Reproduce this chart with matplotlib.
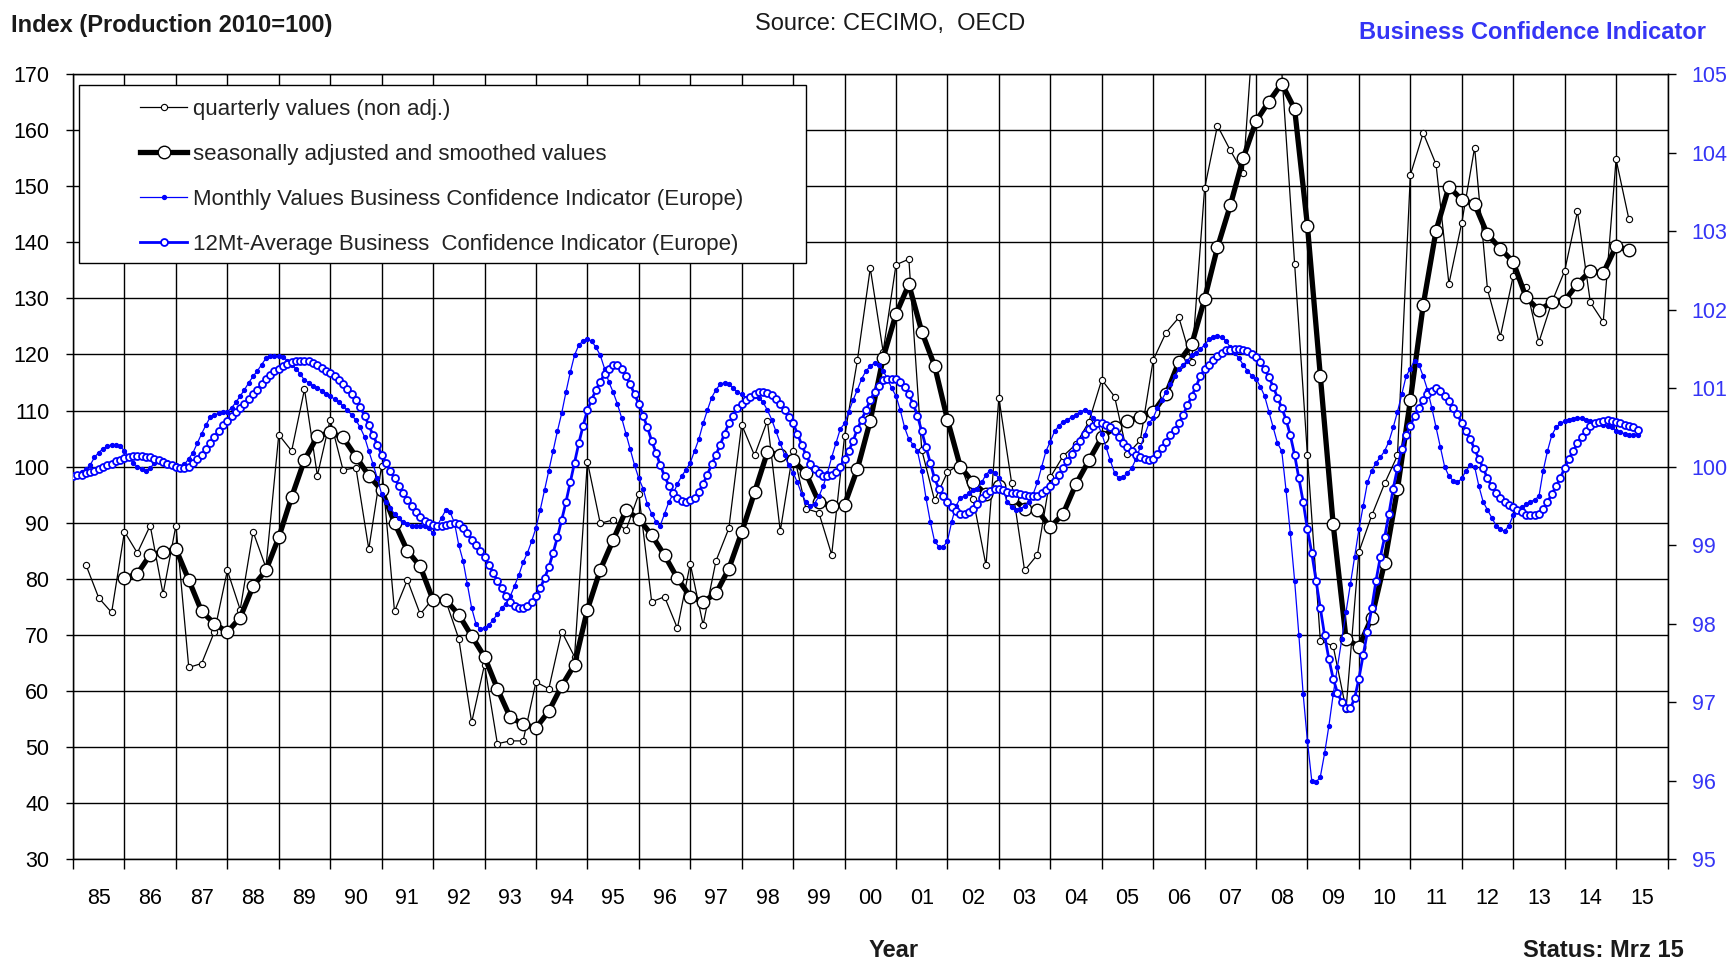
import numpy as np
import matplotlib
matplotlib.use("Agg")
import matplotlib.pyplot as plt
from matplotlib.lines import Line2D
from matplotlib.patches import Rectangle

plt.rcParams['font.family'] = ['Liberation Sans', 'DejaVu Sans']

# quarterly production index, non adjusted (Q1 1985 .. Q1 2015)
quarterly_raw = [
    82.5, 76.6, 74.0, 88.4,
    84.6, 89.5, 77.3, 89.5,
    64.2, 64.9, 70.6, 81.5,
    74.5, 88.4, 82.0, 105.7,
    102.8, 113.8, 98.4, 108.4,
    99.4, 99.8, 85.3, 100.2,
    74.2, 79.8, 73.7, 76.5,
    76.0, 69.3, 54.4, 64.7,
    50.6, 51.1, 51.1, 61.6,
    60.4, 70.6, 66.1, 100.9,
    89.9, 90.5, 88.7, 95.1,
    75.9, 76.8, 71.2, 82.7,
    71.8, 83.2, 89.0, 107.5,
    102.0, 108.2, 88.5, 102.8,
    92.5, 91.8, 84.3, 105.4,
    119.0, 135.4, 120.5, 136.0,
    137.0, 103.0, 94.0, 99.0,
    100.5, 94.2, 82.4, 112.3,
    97.0, 81.5, 84.3, 98.1,
    101.9, 104.0, 108.0, 115.5,
    112.5, 102.2, 104.7, 119.0,
    123.9, 126.6, 118.7, 149.6,
    160.8, 156.4, 152.4, 185.0,
    182.0, 170.5, 136.2, 102.0,
    69.0, 68.0, 56.7, 84.8,
    91.3, 97.0, 102.0, 152.0,
    159.5, 153.9, 132.6, 143.5,
    156.9, 131.6, 123.2, 134.0,
    132.1, 122.2, 129.3, 134.9,
    145.5, 129.3, 125.8, 154.8,
    144.1,
]

# seasonally adjusted and smoothed (Q4 1985 .. Q1 2015)
quarterly_smooth = [
    80.1,
    80.9, 84.3, 84.8, 85.3,
    79.8, 74.2, 72.0, 70.5,
    73.1, 78.7, 81.5, 87.4,
    94.6, 101.2, 105.4, 106.1,
    105.2, 101.8, 98.4, 95.8,
    90.0, 85.0, 82.2, 76.2,
    76.2, 73.6, 69.8, 66.1,
    60.4, 55.3, 54.1, 53.4,
    56.4, 60.9, 64.7, 74.5,
    81.6, 86.9, 92.2, 90.7,
    87.8, 84.2, 80.1, 76.8,
    75.9, 77.4, 81.8, 88.3,
    95.4, 102.6, 102.1, 101.2,
    98.8, 93.7, 93.0, 93.2,
    99.6, 108.2, 119.4, 127.2,
    132.5, 124.1, 118.0, 108.4,
    100.0, 97.2, 95.1, 96.5,
    94.5, 92.5, 92.2, 89.2,
    91.6, 96.9, 101.1, 105.2,
    107.0, 108.2, 108.8, 109.7,
    112.9, 118.7, 121.8, 129.9,
    139.1, 146.6, 155.0, 161.6,
    165.1, 168.3, 163.8, 142.9,
    116.2, 89.7, 69.3, 67.9,
    73.1, 82.9, 96.0, 111.8,
    128.8, 142.1, 149.9, 147.6,
    146.8, 141.4, 138.9, 136.5,
    130.2, 127.9, 129.3, 129.6,
    132.6, 134.9, 134.5, 139.3,
    138.6,
]

# business confidence indicator Europe, monthly (Jan 1985 ..)
bci_monthly = [
    99.88, 99.90, 99.93, 99.97, 100.02, 100.12, 100.18, 100.23, 100.26, 100.28, 100.28, 100.26,
    100.20, 100.12, 100.05, 100.00, 99.97, 99.95, 99.98, 100.05, 100.07, 100.08, 100.06, 100.04,
    100.02, 100.00, 100.03, 100.10, 100.18, 100.30, 100.42, 100.53, 100.63, 100.66, 100.68, 100.69,
    100.70, 100.75, 100.82, 100.90, 100.98, 101.07, 101.15, 101.22, 101.30, 101.38, 101.41, 101.41,
    101.41, 101.40, 101.35, 101.30, 101.25, 101.18, 101.10, 101.07, 101.03, 101.00, 100.97, 100.93,
    100.90, 100.86, 100.82, 100.77, 100.72, 100.66, 100.59, 100.50, 100.38, 100.20, 100.03, 99.85,
    99.65, 99.55, 99.47, 99.40, 99.35, 99.30, 99.27, 99.25, 99.25, 99.25, 99.24, 99.22,
    99.15, 99.25, 99.35, 99.45, 99.42, 99.28, 99.00, 98.80, 98.50, 98.20, 98.00, 97.93,
    97.95, 97.98, 98.05, 98.12, 98.20, 98.25, 98.35, 98.48, 98.62, 98.78, 98.90, 99.05,
    99.22, 99.45, 99.70, 99.95, 100.20, 100.45, 100.68, 100.95, 101.20, 101.42, 101.55, 101.60,
    101.62, 101.60, 101.52, 101.42, 101.25, 101.08, 100.95, 100.80, 100.62, 100.42, 100.22, 100.02,
    99.85, 99.72, 99.52, 99.40, 99.30, 99.25, 99.40, 99.55, 99.65, 99.78, 99.88, 99.96,
    100.05, 100.20, 100.35, 100.55, 100.72, 100.88, 100.98, 101.05, 101.07, 101.05, 101.00, 100.95,
    100.92, 100.88, 100.88, 100.90, 100.88, 100.82, 100.72, 100.60, 100.45, 100.30, 100.15, 100.02,
    99.92, 99.80, 99.65, 99.55, 99.50, 99.53, 99.62, 99.75, 99.92, 100.12, 100.30, 100.48,
    100.55, 100.70, 100.85, 100.98, 101.12, 101.22, 101.28, 101.32, 101.30, 101.22, 101.12, 101.00,
    100.90, 100.72, 100.50, 100.35, 100.28, 100.20, 99.95, 99.60, 99.30, 99.05, 98.98, 98.98,
    99.05, 99.30, 99.50, 99.60, 99.63, 99.66, 99.70, 99.72, 99.80, 99.90, 99.95, 99.92,
    99.85, 99.70, 99.55, 99.48, 99.45, 99.46, 99.50, 99.55, 99.65, 99.80, 100.00, 100.20,
    100.32, 100.45, 100.52, 100.57, 100.60, 100.63, 100.66, 100.70, 100.72, 100.70, 100.62, 100.55,
    100.42, 100.25, 100.08, 99.92, 99.85, 99.87, 99.92, 99.98, 100.10, 100.25, 100.40, 100.55,
    100.62, 100.75, 100.85, 100.95, 101.05, 101.15, 101.25, 101.30, 101.35, 101.42, 101.45, 101.50,
    101.55, 101.62, 101.65, 101.67, 101.65, 101.60, 101.52, 101.45, 101.38, 101.30, 101.22, 101.16,
    101.12, 101.02, 100.90, 100.70, 100.50, 100.30, 100.20, 99.70, 99.15, 98.55, 97.85, 97.10,
    96.50, 96.00, 95.98, 96.05, 96.35, 96.70, 97.10, 97.45, 97.80, 98.15, 98.50, 98.85,
    99.20, 99.50, 99.80, 99.95, 100.05, 100.12, 100.20, 100.32, 100.50, 100.70, 100.92, 101.15,
    101.25, 101.35, 101.30, 101.15, 100.98, 100.75, 100.50, 100.25, 100.00, 99.88, 99.82, 99.80,
    99.85, 99.95, 100.02, 100.00, 99.75, 99.55, 99.45, 99.35, 99.25, 99.20, 99.18, 99.25,
    99.38, 99.45, 99.48, 99.52, 99.55, 99.58, 99.62, 99.95, 100.20, 100.40, 100.50, 100.55,
    100.58, 100.60, 100.61, 100.62, 100.62, 100.60, 100.58, 100.56, 100.55, 100.53, 100.52, 100.50,
    100.46, 100.44, 100.42, 100.40, 100.40, 100.40,
]

# 12 month average of the indicator
bci_12m = [
    99.88, 99.89, 99.90, 99.92, 99.93, 99.95, 99.97, 99.99, 100.02, 100.04, 100.07, 100.09,
    100.11, 100.12, 100.13, 100.13, 100.13, 100.12, 100.12, 100.10, 100.08, 100.06, 100.04, 100.02,
    100.00, 99.98, 99.98, 100.00, 100.05, 100.10, 100.15, 100.22, 100.30, 100.38, 100.46, 100.53,
    100.58, 100.64, 100.70, 100.75, 100.80, 100.86, 100.92, 100.98, 101.05, 101.12, 101.17, 101.22,
    101.25, 101.28, 101.31, 101.33, 101.34, 101.35, 101.35, 101.34, 101.32, 101.29, 101.26, 101.22,
    101.19, 101.15, 101.11, 101.05, 100.99, 100.92, 100.85, 100.76, 100.65, 100.53, 100.40, 100.28,
    100.15, 100.05, 99.95, 99.85, 99.76, 99.67, 99.58, 99.50, 99.42, 99.36, 99.31, 99.28,
    99.26, 99.25, 99.25, 99.26, 99.27, 99.28, 99.27, 99.22, 99.15, 99.07, 99.00, 98.92,
    98.85, 98.75, 98.65, 98.55, 98.45, 98.35, 98.28, 98.22, 98.20, 98.20, 98.22, 98.27,
    98.35, 98.45, 98.58, 98.72, 98.90, 99.10, 99.32, 99.55, 99.80, 100.05, 100.30, 100.52,
    100.72, 100.85, 100.98, 101.08, 101.18, 101.25, 101.30, 101.30, 101.25, 101.15, 101.05, 100.92,
    100.80, 100.65, 100.50, 100.33, 100.18, 100.02, 99.88, 99.76, 99.66, 99.60, 99.56, 99.55,
    99.57, 99.60, 99.68, 99.78, 99.90, 100.03, 100.15, 100.28, 100.42, 100.55, 100.65, 100.75,
    100.80, 100.85, 100.89, 100.92, 100.95, 100.95, 100.94, 100.91, 100.86, 100.80, 100.72, 100.63,
    100.55, 100.42, 100.28, 100.15, 100.04, 99.97, 99.92, 99.88, 99.88, 99.90, 99.93, 100.00,
    100.10, 100.20, 100.33, 100.48, 100.60, 100.72, 100.85, 100.95, 101.03, 101.10, 101.12, 101.12,
    101.12, 101.08, 101.02, 100.92, 100.80, 100.65, 100.45, 100.25, 100.05, 99.85, 99.72, 99.62,
    99.55, 99.48, 99.43, 99.40, 99.40, 99.42, 99.46, 99.52, 99.60, 99.65, 99.69, 99.71,
    99.72, 99.70, 99.68, 99.67, 99.66, 99.65, 99.64, 99.63, 99.62, 99.63, 99.66, 99.70,
    99.75, 99.82, 99.90, 99.98, 100.07, 100.16, 100.25, 100.33, 100.41, 100.48, 100.52, 100.55,
    100.55, 100.53, 100.50, 100.45, 100.38, 100.30, 100.25, 100.20, 100.15, 100.12, 100.10, 100.08,
    100.10, 100.16, 100.24, 100.32, 100.40, 100.47, 100.55, 100.66, 100.78, 100.90, 101.02, 101.15,
    101.24, 101.30, 101.36, 101.41, 101.45, 101.48, 101.49, 101.50, 101.50, 101.49, 101.47, 101.43,
    101.40, 101.33, 101.24, 101.14, 101.02, 100.88, 100.75, 100.60, 100.40, 100.15, 99.85, 99.55,
    99.20, 98.90, 98.55, 98.20, 97.85, 97.55, 97.30, 97.12, 97.00, 96.93, 96.92, 97.05,
    97.30, 97.60, 97.90, 98.20, 98.55, 98.85, 99.10, 99.40, 99.72, 99.98, 100.22, 100.40,
    100.52, 100.65, 100.75, 100.85, 100.92, 100.97, 101.00, 100.97, 100.90, 100.83, 100.75, 100.67,
    100.55, 100.45, 100.35, 100.22, 100.10, 99.98, 99.85, 99.75, 99.67, 99.60, 99.55, 99.51,
    99.48, 99.45, 99.42, 99.39, 99.38, 99.38, 99.40, 99.46, 99.55, 99.65, 99.75, 99.86,
    99.98, 100.10, 100.20, 100.30, 100.38, 100.45, 100.52, 100.55, 100.57, 100.58, 100.59, 100.58,
    100.57, 100.55, 100.53, 100.52, 100.50, 100.47,
]

years = list(range(1985, 2016))
year_labels = [str(y)[2:] for y in years]

raw_x = 1985.25 + 0.25 * np.arange(len(quarterly_raw))
smooth_x = 1986.0 + 0.25 * np.arange(len(quarterly_smooth))
month_x = 1985.0 + np.arange(len(bci_monthly)) / 12.0
avg_x = 1985.0 + np.arange(len(bci_12m)) / 12.0

BLUE = '#0000ff'
LABEL_BLUE = '#3535f5'

fig = plt.figure(figsize=(17.35, 9.61), dpi=100)
ax = fig.add_axes([0.0421, 0.1059, 0.9190, 0.8170])
ax2 = ax.twinx()

# left axis: production index
ax.plot(raw_x, quarterly_raw, color='black', lw=0.9, marker='o', ms=4.5,
        mfc='white', mec='black', mew=0.8, zorder=3)
ax.plot(smooth_x, quarterly_smooth, color='black', lw=3.8, marker='o', ms=9,
        mfc='white', mec='black', mew=1.0, zorder=4)

ax.set_xlim(1985, 2016)
ax.set_ylim(30, 170)
ax.set_yticks(range(30, 171, 10))
ax.set_xticks(range(1985, 2017))
ax.set_xticklabels([])
ax.set_xticks([y + 0.5 for y in years], minor=True)
ax.set_xticklabels(year_labels, minor=True)
ax.grid(True, which='major', color='black', lw=1.0)
ax.tick_params(axis='x', which='major', length=7, width=1, direction='out')
ax.tick_params(axis='x', which='minor', length=0, pad=21, labelsize=15.5)
ax.tick_params(axis='y', length=5, width=1, pad=12, labelsize=15.5)
for s in ax.spines.values():
    s.set_color('black')
    s.set_linewidth(1.0)

# right axis: business confidence indicator
ax2.plot(month_x, bci_monthly, color=BLUE, lw=0.9, marker='o', ms=2.8,
         mfc=BLUE, mec=BLUE, zorder=3)
ax2.plot(avg_x, bci_12m, color=BLUE, lw=2.0, marker='o', ms=5.0,
         mfc='white', mec=BLUE, mew=1.3, zorder=4)
ax2.set_ylim(95, 105)
ax2.set_yticks(range(95, 106))
ax2.tick_params(axis='y', length=5.5, width=1, pad=12, labelsize=15.5,
                labelcolor=LABEL_BLUE, color='black')

# legend
ax2.add_patch(Rectangle((0.004, 0.76), 0.456, 0.226, transform=ax2.transAxes,
                        facecolor='white', edgecolor='black', lw=1.0, zorder=10))
handles = [
    Line2D([], [], color='black', lw=0.9, marker='o', ms=4.5, mfc='white', mec='black', mew=0.8),
    Line2D([], [], color='black', lw=3.8, marker='o', ms=9, mfc='white', mec='black'),
    Line2D([], [], color=BLUE, lw=0.9, marker='o', ms=2.8, mfc=BLUE, mec=BLUE),
    Line2D([], [], color=BLUE, lw=2.0, marker='o', ms=5.0, mfc='white', mec=BLUE, mew=1.3),
]
labels = [
    'quarterly values (non adj.)',
    'seasonally adjusted and smoothed values',
    'Monthly Values Business Confidence Indicator (Europe)',
    '12Mt-Average Business  Confidence Indicator (Europe)',
]
leg = ax2.legend(handles, labels, loc='upper left', bbox_to_anchor=(0.0423, 0.968),
                 frameon=False, fontsize=16, handlelength=2.1, handletextpad=0.25,
                 labelspacing=1.07, borderpad=0, borderaxespad=0)
leg.set_zorder(11)
for t in leg.get_texts():
    t.set_color('#222222')

# titles and notes
fig.text(0.0064, 0.9735, 'Index (Production 2010=100)', fontsize=17,
         fontweight='bold', ha='left', va='center', color='#1a1a1a')
fig.text(0.5128, 0.9750, 'Source: CECIMO,  OECD', fontsize=17,
         ha='center', va='center', color='#1a1a1a')
fig.text(0.9834, 0.9660, 'Business Confidence Indicator', fontsize=17,
         fontweight='bold', ha='right', va='center', color=LABEL_BLUE)
fig.text(0.515, 0.0110, 'Year', fontsize=17, fontweight='bold',
         ha='center', va='center', color='#1a1a1a')
fig.text(0.9707, 0.0110, 'Status: Mrz 15', fontsize=17, fontweight='bold',
         ha='right', va='center', color='#1a1a1a')

fig.savefig('out.png', dpi=100)
